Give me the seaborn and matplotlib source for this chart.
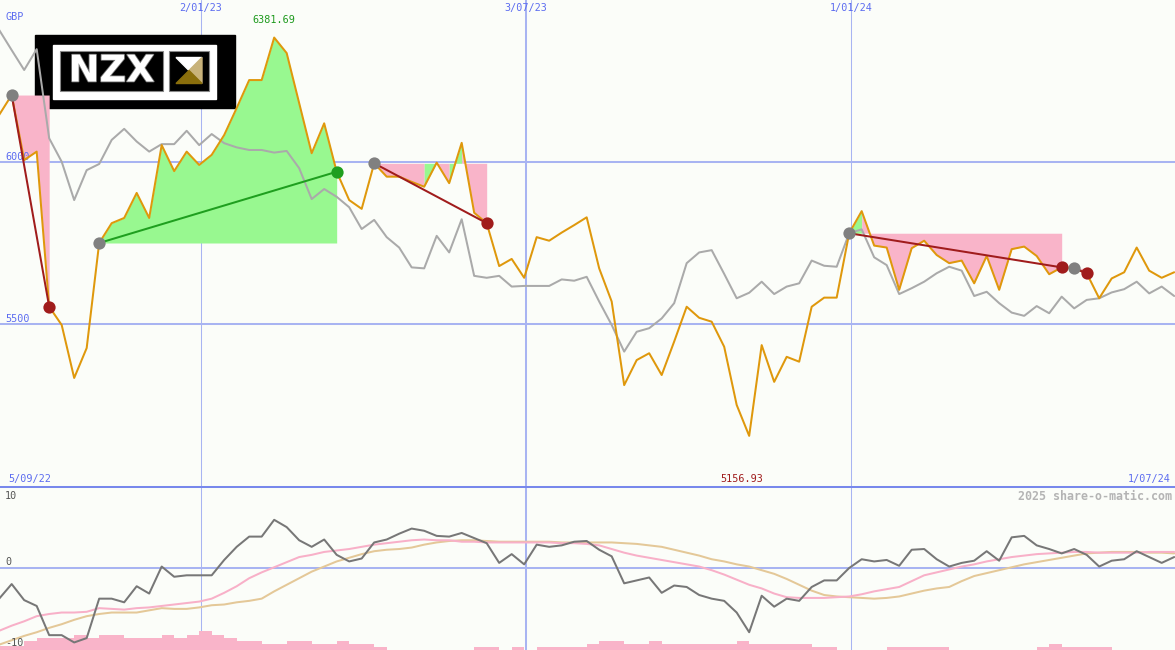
import numpy as np
import pandas as pd
import matplotlib
matplotlib.use("Agg")
import matplotlib.pyplot as plt
import matplotlib.patches as mpatches
import matplotlib.patheffects as pe
import seaborn as sns

# ---------------- data ----------------
start_date = "2022-09-11"
price = [6144, 6205, 6005, 6031, 5554, 5498, 5335, 5427, 5750, 5811,
         5827, 5904, 5827, 6051, 5971, 6031, 5990, 6021, 6082, 6165,
         6251, 6251, 6381.69, 6334, 6180, 6026, 6118, 5969, 5882, 5855,
         5995, 5954, 5954, 5938, 5923, 5997, 5934, 6058, 5843, 5811,
         5679, 5701, 5643, 5768, 5757, 5782, 5805, 5829, 5672, 5570,
         5313, 5390, 5411, 5344, 5447, 5554, 5520, 5508, 5431, 5252,
         5156.93, 5436, 5323, 5400, 5385, 5554, 5582, 5582, 5780, 5848,
         5742, 5736, 5606, 5734, 5757, 5713, 5688, 5696, 5626, 5710,
         5606, 5731, 5739, 5710, 5654, 5675, 5672, 5657, 5580, 5641,
         5660, 5736, 5665, 5643, 5660]
compare = [6405, 6343, 6282, 6346, 6072, 6000, 5882, 5974, 5993, 6067,
           6101, 6062, 6031, 6054, 6054, 6095, 6051, 6085, 6057, 6044,
           6036, 6036, 6028, 6033, 5980, 5885, 5916, 5892, 5860, 5793,
           5821, 5768, 5736, 5675, 5672, 5772, 5721, 5823, 5649, 5643,
           5649, 5616, 5618, 5618, 5618, 5638, 5634, 5646, 5570, 5498,
           5416, 5477, 5488, 5518, 5565, 5688, 5721, 5728, 5655, 5580,
           5597, 5631, 5593, 5616, 5626, 5696, 5680, 5677, 5780, 5792,
           5706, 5682, 5593, 5611, 5631, 5657, 5677, 5665, 5587, 5600,
           5565, 5536, 5526, 5556, 5534, 5585, 5549, 5575, 5580, 5598,
           5608, 5631, 5595, 5616, 5587]
momentum = [-4.2, -2.2, -4.4, -5.2, -9.2, -9.2, -10.2, -9.6, -4.2, -4.2,
            -4.7, -2.5, -3.5, 0.2, -1.2, -1.0, -1.0, -1.0, 1.1, 2.9,
            4.3, 4.3, 6.6, 5.6, 3.8, 2.9, 3.9, 1.8, 0.9, 1.3,
            3.5, 3.9, 4.7, 5.4, 5.1, 4.4, 4.3, 4.8, 4.1, 3.4,
            0.7, 1.9, 0.5, 3.2, 2.9, 3.1, 3.6, 3.7, 2.5, 1.6,
            -2.1, -1.7, -1.3, -3.4, -2.4, -2.6, -3.7, -4.2, -4.5, -6.1,
            -8.8, -3.8, -5.3, -4.2, -4.5, -2.6, -1.7, -1.7, 0.0, 1.2,
            0.9, 1.1, 0.3, 2.5, 2.6, 1.2, 0.2, 0.7, 1.0, 2.3,
            1.0, 4.2, 4.4, 3.1, 2.6, 2.0, 2.6, 1.8, 0.2, 1.0,
            1.2, 2.3, 1.5, 0.7, 1.5]
ma_fast = [-8.6, -7.9, -7.3, -6.6, -6.3, -6.1, -6.1, -6.0, -5.5, -5.6,
           -5.7, -5.5, -5.4, -5.2, -5.0, -4.8, -4.6, -4.2, -3.4, -2.5,
           -1.4, -0.6, 0.1, 0.8, 1.5, 1.8, 2.2, 2.4, 2.6, 2.9,
           3.2, 3.4, 3.6, 3.8, 3.9, 3.8, 3.8, 3.6, 3.6, 3.5,
           3.5, 3.5, 3.5, 3.5, 3.5, 3.4, 3.4, 3.3, 3.1, 2.6,
           2.1, 1.7, 1.4, 1.1, 0.8, 0.5, 0.2, -0.3, -0.9, -1.6,
           -2.3, -2.8, -3.5, -4.0, -4.1, -4.1, -4.1, -4.0, -3.9, -3.6,
           -3.2, -2.9, -2.6, -1.8, -1.0, -0.6, -0.2, 0.2, 0.5, 0.9,
           1.2, 1.5, 1.7, 1.9, 2.0, 2.1, 2.2, 2.2, 2.1, 2.1,
           2.1, 2.1, 2.2, 2.2, 2.2]
ma_slow = [-10.5, -9.9, -9.3, -8.8, -8.2, -7.7, -7.1, -6.6, -6.3, -6.1,
           -6.1, -6.1, -5.8, -5.5, -5.6, -5.6, -5.4, -5.1, -5.0, -4.7,
           -4.5, -4.2, -3.2, -2.3, -1.4, -0.5, 0.2, 0.9, 1.4, 1.9,
           2.3, 2.5, 2.6, 2.8, 3.2, 3.5, 3.7, 3.8, 3.8, 3.7,
           3.6, 3.6, 3.6, 3.6, 3.6, 3.5, 3.5, 3.5, 3.5, 3.5,
           3.4, 3.3, 3.1, 2.9, 2.5, 2.1, 1.7, 1.2, 0.9, 0.5,
           0.2, -0.3, -0.8, -1.5, -2.3, -3.1, -3.7, -3.9, -4.0, -4.1,
           -4.2, -4.1, -3.9, -3.5, -3.1, -2.8, -2.6, -1.8, -1.1, -0.7,
           -0.3, 0.1, 0.5, 0.8, 1.1, 1.4, 1.7, 2.0, 2.1, 2.2,
           2.2, 2.2, 2.1, 2.1, 2.0]
volume = [4, 4, 9, 12, 12, 12, 15, 12, 15, 15,
          12, 12, 12, 15, 12, 15, 19, 15, 12, 9,
          9, 6, 6, 9, 9, 6, 6, 9, 6, 6,
          3, 0, 0, 0, 0, 0, 0, 0, 3, 3,
          0, 3, 0, 3, 3, 3, 3, 6, 9, 9,
          6, 6, 9, 6, 6, 6, 6, 6, 6, 9,
          6, 6, 6, 6, 6, 3, 3, 0, 0, 0,
          0, 3, 3, 3, 3, 3, 0, 0, 0, 0,
          0, 0, 0, 3, 6, 3, 3, 3, 3, 0,
          0, 0, 0, 0, 0]
trade_entry = [1, 8, 30, 68, 86]
trade_exit = [4, 27, 39, 85, 87]
trade_won = [False, True, False, False, False]
green_segments = list(range(8, 27)) + [34, 36, 68]
date_lines = ["2023-01-02", "2023-07-03", "2024-01-01"]
date_labels = ["2/01/23", "3/07/23", "1/01/24"]
price_levels = [6000, 5500]
first_label, last_label = "5/09/22", "1/07/24"
ind_levels = [10, 0, -10]

# ---------------- style ----------------
sns.set_style("white")
plt.rcParams["font.family"] = ["DejaVu Sans Mono", "DejaVu Sans"]
BG = "#fbfdf9"
BLUE_TXT = "#5c6cf0"
GRID = "#a8b4f2"
DIV = "#7888ec"
ORANGE = "#df980c"
GREY = "#aaaaaa"
PINK = "#f9b4c9"
GREEN_F = "#98f890"
DARKRED = "#a01c1c"
GREEN_L = "#1f9f1f"

W, H = 1175, 650
MAIN_H = 487
fig = plt.figure(figsize=(W / 100, H / 100), dpi=100, facecolor=BG)
ax = fig.add_axes([0, (H - MAIN_H) / H, 1, MAIN_H / H])
axl = fig.add_axes([0, 0, 1, (H - MAIN_H) / H])
axv = axl.twinx()

dates = pd.date_range(start_date, periods=len(price), freq="7D")
d0 = dates[0]
xlim = (d0 + pd.Timedelta(hours=11), d0 + pd.Timedelta(days=658, hours=11))
df = pd.DataFrame({"date": dates, "price": price, "compare": compare,
                   "momentum": momentum, "ma_fast": ma_fast,
                   "ma_slow": ma_slow, "volume": volume})

ax.set_facecolor(BG)
ax.set_ylim(4999.7, 6497.2)
axl.set_ylim(-82 / 7.3, 81 / 7.3)
axv.set_ylim(0, 163)
axv.set_zorder(0)
axl.set_zorder(1)
axl.patch.set_visible(False)
axv.patch.set_visible(True)
axv.patch.set_facecolor(BG)

LW = 1.45  # ~2 px

# ---- grid lines ----
for lvl in price_levels:
    ax.axhline(lvl, color=GRID, lw=LW, zorder=0.5)
lw_v = [0.75, LW, 0.75]
for dl, w in zip(date_lines, lw_v):
    ax.axvline(pd.Timestamp(dl), color=GRID, lw=w, zorder=0.5)
    axv.axvline(pd.Timestamp(dl), color=GRID, lw=w, zorder=0.5)
axl.axhline(0, color=GRID, lw=LW, zorder=0.5)
fig.add_artist(plt.Line2D([0, 1], [(H - MAIN_H) / H] * 2, color=DIV, lw=LW,
                          transform=fig.transFigure, zorder=10))

# ---- logo (pixel coordinates within the main panel) ----
def pr(x0, y0, x1, y1, **kw):
    return mpatches.Rectangle((x0 / W, 1 - y1 / MAIN_H), (x1 - x0) / W,
                              (y1 - y0) / MAIN_H, transform=ax.transAxes, **kw)

def pp(points, **kw):
    return mpatches.Polygon([(x / W, 1 - y / MAIN_H) for x, y in points],
                            closed=True, transform=ax.transAxes, **kw)

ax.add_patch(pr(35, 35, 235, 108, color="black", zorder=1))
ax.add_patch(pr(53, 45, 216, 99, color="white", zorder=1.1))
ax.add_patch(pr(60, 50.7, 162.7, 90.7, facecolor="black", edgecolor="#888888",
                lw=0.8, zorder=1.2))
ax.add_patch(pr(169.3, 50.7, 208.7, 90.7, facecolor="black", edgecolor="#888888",
                lw=0.8, zorder=1.2))
ax.add_patch(pp([(176, 57.5), (202, 57.5), (189, 70.5)], color="#ffffff", zorder=1.3))
ax.add_patch(pp([(202, 57.5), (202, 83.5), (189, 70.5)], color="#c8b27a", zorder=1.3))
ax.add_patch(pp([(176, 83.5), (202, 83.5), (189, 70.5)], color="#8a6e0c", zorder=1.3))
ax.text(111.5 / W, 1 - 71 / MAIN_H, "NZX", transform=ax.transAxes, ha="center",
        va="center", color="white", fontsize=26.5, fontweight="bold",
        family="DejaVu Sans", zorder=1.4,
        path_effects=[pe.withStroke(linewidth=1.2, foreground="#777777")])

# ---- trade fills (contiguous runs of one colour) ----
for e, x in zip(trade_entry, trade_exit):
    lvl = price[e]
    k = e
    while k < x:
        is_green = k in green_segments
        j = k
        while j < x and (j in green_segments) == is_green:
            j += 1
        ax.fill_between(dates[k:j + 1], price[k:j + 1], lvl,
                        color=GREEN_F if is_green else PINK, lw=0, zorder=2)
        k = j

# ---- lines ----
sns.lineplot(data=df, x="date", y="compare", ax=ax, color=GREY, lw=LW,
             estimator=None, sort=False, zorder=3)
sns.lineplot(data=df, x="date", y="price", ax=ax, color=ORANGE, lw=LW,
             estimator=None, sort=False, zorder=4)
for e, x, won in zip(trade_entry, trade_exit, trade_won):
    c = GREEN_L if won else DARKRED
    ax.plot([dates[e], dates[x]], [price[e], price[x]], color=c, lw=LW, zorder=5)
    ax.scatter([dates[e]], [price[e]], s=78, color="#808080", lw=0, zorder=6)
    ax.scatter([dates[x]], [price[x]], s=78, color=c, lw=0, zorder=6)

# ---- lower panel ----
axv.bar(dates, df["volume"], width=7, align="edge", color=PINK, lw=0, zorder=1)
sns.lineplot(data=df, x="date", y="ma_slow", ax=axl, color="#e4c898", lw=LW,
             estimator=None, sort=False, zorder=2)
sns.lineplot(data=df, x="date", y="ma_fast", ax=axl, color="#f8b0c8", lw=LW,
             estimator=None, sort=False, zorder=3)
sns.lineplot(data=df, x="date", y="momentum", ax=axl, color="#777777", lw=LW,
             estimator=None, sort=False, zorder=4)
for a in (ax, axl, axv):
    for s in a.spines.values():
        s.set_visible(False)
    a.set_xlabel("")
    a.set_ylabel("")
    a.set_xticks([])
    a.set_yticks([])
    a.set_xlim(*xlim)

# ---- texts ----
FS = 7.3
def tpx(x, y, s, **kw):
    fig.text(x / W, 1 - y / H, s, fontsize=kw.pop("fontsize", FS),
             va=kw.pop("va", "center"), **kw)

tpx(5, 17, "GBP", color=BLUE_TXT)
for dl, lab in zip(date_lines, date_labels):
    ax.text(pd.Timestamp(dl), 1 - 8.5 / MAIN_H, lab, transform=ax.get_xaxis_transform(),
            ha="center", va="center", fontsize=FS, color=BLUE_TXT, zorder=7)
imax = int(np.argmax(price))
imin = int(np.argmin(price))
ax.text(dates[imax], 1 - 20 / MAIN_H, f"{price[imax]:.2f}", transform=ax.get_xaxis_transform(),
        ha="center", va="center", fontsize=FS, color="#1e9a1e", zorder=7)
ax.text(dates[imin] - pd.Timedelta(days=4), 1 - 479 / MAIN_H, f"{price[imin]:.2f}",
        transform=ax.get_xaxis_transform(), ha="center", va="center",
        fontsize=FS, color=DARKRED, zorder=7)
for lvl in price_levels:
    ax.text(5 / W, lvl, str(lvl), transform=ax.get_yaxis_transform(), ha="left",
            va="bottom", fontsize=FS, color=BLUE_TXT, zorder=2.5)
tpx(8, 479, first_label, color=BLUE_TXT)
tpx(1171, 479, last_label, color=BLUE_TXT, ha="right")
tpx(1172, 496, "2025 share-o-matic.com", color="#b4b4b4", ha="right",
    fontsize=8.4, fontweight="bold")
for v, yy in zip(ind_levels, [496, 562, 643]):
    tpx(5, yy, str(v), color="#555555")

fig.savefig("out.png", dpi=100, facecolor=BG)
